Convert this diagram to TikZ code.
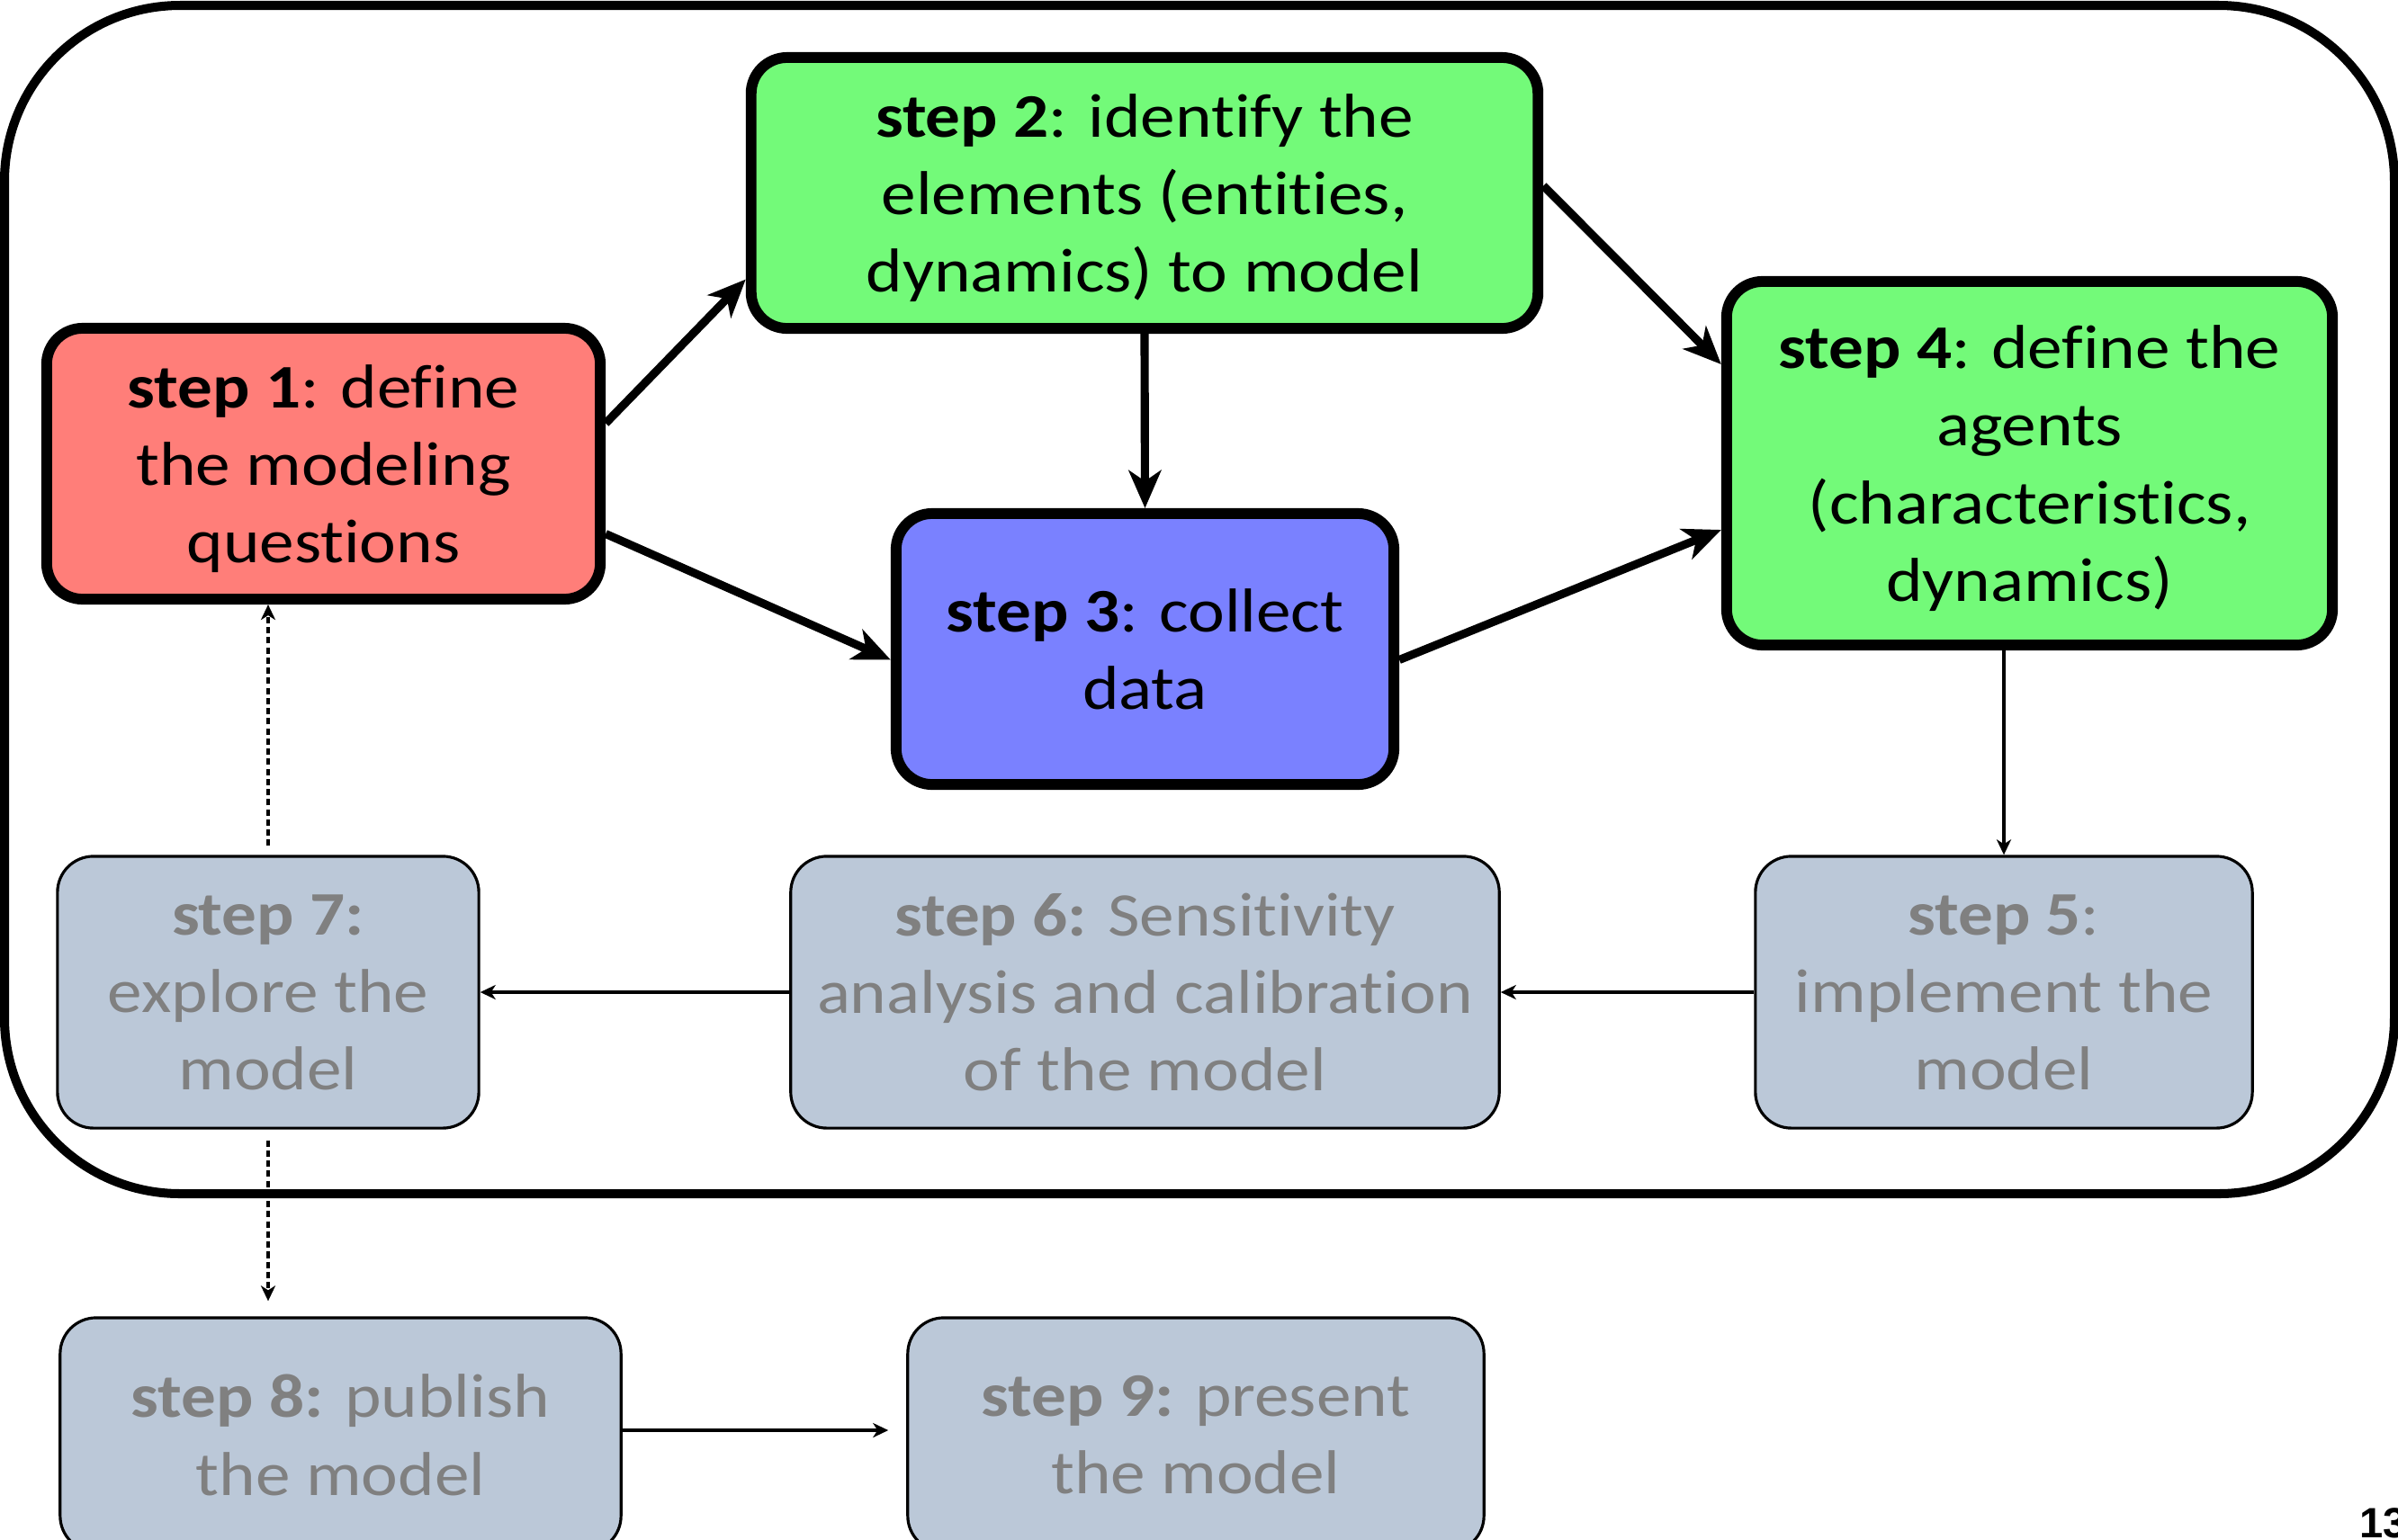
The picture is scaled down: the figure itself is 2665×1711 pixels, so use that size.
\documentclass[tikz,border=0pt]{standalone}
\usepackage{fontspec}
\setmainfont{Carlito}[FakeStretch=1.12, RawFeature={-liga}]
\newfontfamily\pagefont{Liberation Sans}
\usetikzlibrary{arrows.meta,calc}

\definecolor{salmon}{HTML}{FF7E79}
\definecolor{flora}{HTML}{73FA79}
\definecolor{orchid}{HTML}{7A81FF}
\definecolor{mist}{HTML}{BBC8D8}
\definecolor{greytext}{HTML}{808080}

\begin{document}
\begin{tikzpicture}[x=0.01cm,y=-0.01cm,
  boxtext/.style={align=center, inner sep=0pt, text depth=0pt, font=\fontsize{19.6}{24.5}\selectfont},
  keystep/.style={boxtext, draw=black, line width=3.4pt, rounded corners=0.4cm, text=black},
  laterstep/.style={boxtext, draw=black, line width=0.9pt, fill=mist, rounded corners=0.4cm, text=greytext},
  bigarrow/.style={line width=2.6pt, -{Stealth[length=0.42cm,width=0.36cm,inset=0.12cm]}},
  smallarrow/.style={line width=0.9pt, -{Stealth[length=0.17cm,width=0.16cm,inset=0.05cm]}},
  dotlink/.style={smallarrow, dash pattern=on 2pt off 1.2pt},
  frameline/.style={line width=2.85pt, rounded corners=1.95cm},
]
\useasboundingbox (0,0) rectangle (2665,1711);
\clip (0,0) rectangle (2665,1711);

% outer frame around the modelling loop
\draw[frameline] (5,6) rectangle (2661,1327);

% first phase: question, elements, data, agents
\node[keystep, fill=salmon, minimum width=6.15cm, minimum height=3.01cm] (s1) at (359.5,515.5)
  {\textbf{step 1}: define\\the modeling\\questions};
\node[keystep, fill=flora, minimum width=8.74cm, minimum height=3.01cm] (s2) at (1272,214.5)
  {\textbf{step 2}: identify the\\elements (entities,\\dynamics) to model};
\node[keystep, fill=orchid, minimum width=5.53cm, minimum height=3.01cm] (s3) at (1272.5,721.5)
  {\textbf{step 3}: collect\\data};
\node[keystep, fill=flora, minimum width=6.73cm, minimum height=4.04cm] (s4) at (2255.5,515)
  {\textbf{step 4}: define the\\agents\\(characteristics,\\dynamics)};

% later phase
\node[laterstep, minimum width=5.52cm, minimum height=3.02cm] (s5) at (2227,1103)
  {\textbf{step 5}:\\implement the\\model};
\node[laterstep, minimum width=7.87cm, minimum height=3.02cm] (s6) at (1272.5,1103)
  {\textbf{step 6:} Sensitivity\\analysis and calibration\\of the model};
\node[laterstep, minimum width=4.68cm, minimum height=3.02cm] (s7) at (298,1103)
  {\textbf{step 7:}\\explore the\\model};
\node[laterstep, minimum width=6.23cm, minimum height=2.6cm] (s8) at (378.5,1595)
  {\textbf{step 8:} publish\\the model};
\node[laterstep, minimum width=6.4cm, minimum height=2.6cm] (s9) at (1329,1595)
  {\textbf{step 9:} present\\the model};

% page number
\node[font=\pagefont\bfseries\fontsize{13.4}{16}\selectfont, anchor=base west, inner sep=0pt] (pageno) at (2622,1709) {13};

% connectors of the first phase
\draw[bigarrow] ($(s1.east)+(0,-45)$) -- ($(s2.west)+(0,96)$);
\draw[bigarrow] ($(s1.east)+(0,78)$) -- ($(s3.west)+(0,12)$);
\draw[bigarrow] (s2.south) -- (s3.north);
\draw[bigarrow] ($(s2.east)+(0,-8)$) -- ($(s4.west)+(0,-110)$);
\draw[bigarrow] ($(s3.east)+(0,12)$) -- ($(s4.west)+(0,74)$);

% connectors of the later phase
\draw[smallarrow] (s4.south -| s5.north) -- (s5.north);
\draw[smallarrow] (s5.west) -- (s6.east);
\draw[smallarrow] (s6.west) -- (s7.east);
\draw[dotlink] ($(s7.north)+(0,-10)$) -- (s1.south -| s7.north);
\draw[dotlink, shorten >=0.17cm] ($(s7.south)+(0,12)$) -- (s8.north -| s7.south);
\draw[smallarrow, shorten >=0.2cm] ($(s8.east)+(0,-5)$) -- ($(s9.west)+(0,-5)$);
\end{tikzpicture}
\end{document}
